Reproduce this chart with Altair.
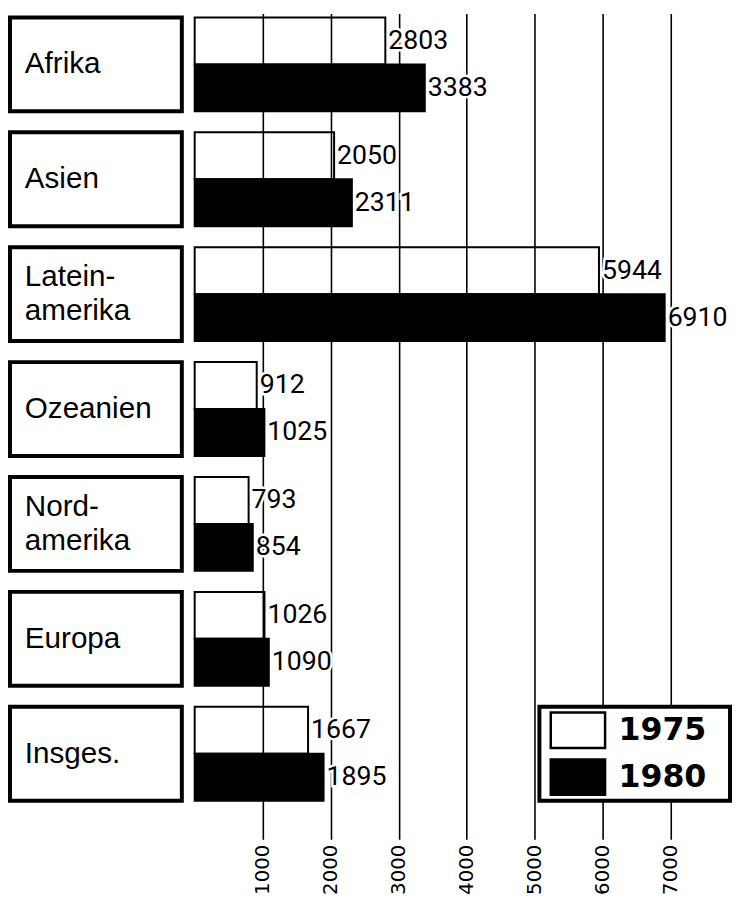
import altair as alt
import pandas as pd

regions = ["Afrika", "Asien", "Lateinamerika", "Ozeanien", "Nordamerika", "Europa", "Insges."]
region_labels = ["Afrika", "Asien", "Latein-\namerika", "Ozeanien", "Nord-\namerika", "Europa", "Insges."]
years = ["1975", "1980"]
values_1975 = [2803, 2050, 5944, 912, 793, 1026, 1667]
values_1980 = [3383, 2311, 6910, 1025, 854, 1090, 1895]
tick_values = [1000, 2000, 3000, 4000, 5000, 6000, 7000]

rows = []
for r, v1, v2 in zip(regions, values_1975, values_1980):
    rows.append({"region": r, "year": years[0], "value": v1})
    rows.append({"region": r, "year": years[1], "value": v2})
df = pd.DataFrame(rows)
labels_df = pd.DataFrame({"region": regions, "label": region_labels})
labels_df["lines"] = labels_df["label"].str.count("\n") + 1
legend_df = pd.DataFrame({"region": [regions[-1]] * 2, "year": years})
box_df = pd.DataFrame({"region": [regions[-1]]})

H = 836
yscale = alt.Scale(domain=regions, paddingInner=0.183, paddingOuter=0.185, align=0.093)
Y = alt.Y("region:N", scale=yscale, axis=None)
YOFF = alt.YOffset("year:N", scale=alt.Scale(domain=years, paddingInner=0, paddingOuter=0))
fillscale = alt.Scale(domain=years, range=["rgba(255,255,255,0)", "black"])
X = alt.X(
    "value:Q",
    scale=alt.Scale(domain=[0, 7900], nice=False, zero=True),
    axis=alt.Axis(values=tick_values, format="d", grid=True, gridColor="black", gridWidth=1.6,
                  domain=False, ticks=False, tickSize=0, labelAngle=270, labelFont="DejaVu Sans",
                  labelFontSize=20, labelColor="black", labelPadding=5, title=None),
)

# left panel: region label boxes
boxes = alt.Chart(labels_df).mark_rect(fill="white", stroke="black", strokeWidth=4).encode(
    y=Y, x=alt.value(2), x2=alt.value(176)
)
text_style = dict(align="left", baseline="middle", font="Liberation Sans", fontSize=30,
                  lineBreak="\n", lineHeight=34, color="black")
texts1 = alt.Chart(labels_df).transform_filter("datum.lines == 1").mark_text(**text_style).encode(
    y=Y, x=alt.value(17), text="label:N")
texts2 = alt.Chart(labels_df).transform_filter("datum.lines == 2").mark_text(dy=-17, **text_style).encode(
    y=Y, x=alt.value(17), text="label:N")
left = alt.layer(boxes, texts1, texts2).properties(width=178, height=H)

# right panel: bars
bars = alt.Chart(df).mark_bar(stroke="black", strokeWidth=2).encode(
    y=Y, yOffset=YOFF, x=X,
    fill=alt.Fill("year:N", scale=fillscale, legend=None),
)
halo = alt.Chart(df).mark_text(
    align="left", baseline="middle", dx=3, font="Roboto", fontSize=27,
    fill="white", stroke="white", strokeWidth=5
).encode(y=Y, yOffset=YOFF, x=X, text="value:Q")
vals = alt.Chart(df).mark_text(
    align="left", baseline="middle", dx=3, font="Roboto", fontSize=27, color="black"
).encode(y=Y, yOffset=YOFF, x=X, text="value:Q")

legend_box = alt.Chart(box_df).mark_rect(fill="white", stroke="black", strokeWidth=4).encode(
    y=Y, x=alt.value(349), x2=alt.value(542)
)
legend_sym = alt.Chart(legend_df).mark_point(
    shape="M-1,-0.65H1V0.65H-1Z", size=3025, filled=True, stroke="black",
    strokeWidth=2.5, opacity=1
).encode(
    y=Y, yOffset=YOFF, x=alt.value(388),
    fill=alt.Fill("year:N", scale=fillscale, legend=None),
)
legend_txt = alt.Chart(legend_df).mark_text(
    align="left", baseline="middle", font="DejaVu Sans", fontSize=32,
    fontWeight="bold", color="black"
).encode(y=Y, yOffset=YOFF, x=alt.value(429), text="year:N")

right = alt.layer(bars, halo, vals, legend_box, legend_sym, legend_txt).properties(
    width=544, height=H
)

chart = alt.hconcat(left, right, spacing=10).properties(
    padding=0, background="white"
).configure_view(stroke=None)

chart.save("out.html", embed_options={"renderer": "svg", "actions": False})
